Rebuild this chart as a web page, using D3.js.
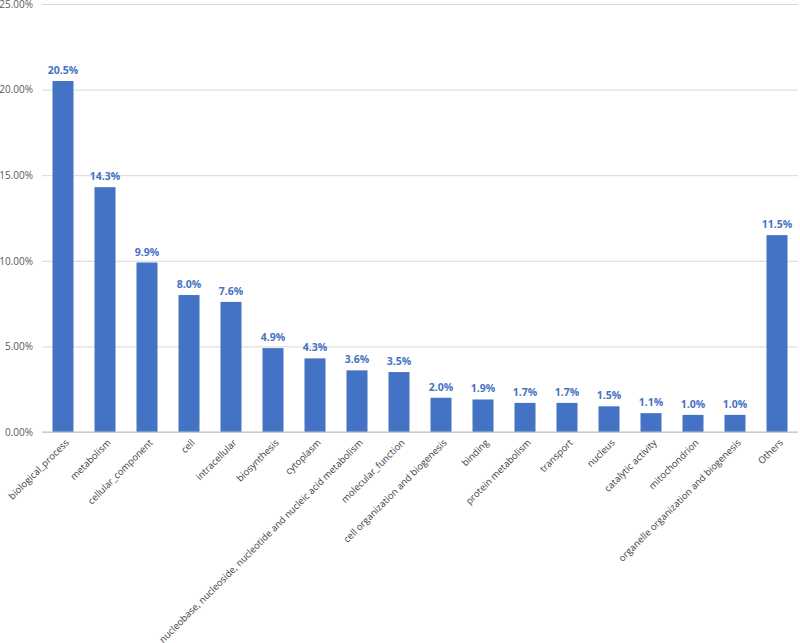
<!DOCTYPE html>
<html>
<head>
<meta charset="utf-8">
<script src="https://cdn.jsdelivr.net/npm/d3@7"></script>
<style>
  body { margin: 0; background: #fff; }
  svg text { font-family: "Open Sans", "Noto Sans", "Liberation Sans", sans-serif; }
</style>
</head>
<body>
<div id="chart"></div>
<script>
// categories and values (percent of annotated genes)
var categories = ["biological_process", "metabolism", "cellular_component", "cell", "intracellular",
    "biosynthesis", "cytoplasm", "nucleobase, nucleoside, nucleotide and nucleic acid metabolism",
    "molecular_function", "cell organization and biogenesis", "binding", "protein metabolism",
    "transport", "nucleus", "catalytic activity", "mitochondrion",
    "organelle organization and biogenesis", "Others"];
var values = [20.5, 14.3, 9.9, 8.0, 7.6, 4.9, 4.3, 3.6, 3.5, 2.0, 1.9, 1.7, 1.7, 1.5, 1.1, 1.0, 1.0, 11.5];
var yTicks = [0, 5, 10, 15, 20, 25];

// drawing params
const width = 800,
    height = 643,
    mLeft = 42, // plot left
    mRight = 798, // plot right
    mTop = 4, // y of 25%
    mBottom = 432, // y of 0%
    barColor = "#4472c4";

var svg = d3.select("#chart").append("svg")
    .attr("width", width)
    .attr("height", height);

var x = d3.scaleBand()
    .domain(categories)
    .range([mLeft, mRight])
    .paddingInner(0.5)
    .paddingOuter(0.25);

var y = d3.scaleLinear()
    .domain([0, 25])
    .range([mBottom, mTop]);

// gridlines + y labels
var yAxis = svg.append("g")
    .attr("transform", "translate(" + mLeft + ",0)")
    .call(d3.axisLeft(y).tickValues(yTicks)
        .tickSize(-(mRight - mLeft))
        .tickPadding(9)
        .tickFormat(function(d) { return d.toFixed(2) + "%"; }));
yAxis.select(".domain").remove();
yAxis.selectAll("line").attr("stroke", "#d9d9d9");
yAxis.selectAll("text")
    .attr("fill", "#595959")
    .style("font-size", "10px");

// bars
svg.append("g")
    .selectAll("rect")
    .data(values)
    .enter().append("rect")
    .attr("x", function(d, i) { return x(categories[i]); })
    .attr("y", function(d) { return y(d); })
    .attr("width", x.bandwidth())
    .attr("height", function(d) { return y(0) - y(d); })
    .attr("fill", barColor);

// baseline
svg.append("line")
    .attr("x1", mLeft).attr("x2", mRight)
    .attr("y1", y(0)).attr("y2", y(0))
    .attr("stroke", "#bfbfbf");

// value labels
svg.append("g")
    .selectAll("text")
    .data(values)
    .enter().append("text")
    .attr("x", function(d, i) { return x(categories[i]) + x.bandwidth() / 2; })
    .attr("y", function(d) { return y(d) - 7; })
    .attr("text-anchor", "middle")
    .attr("fill", barColor)
    .style("font-size", "10.5px")
    .style("font-weight", "bold")
    .text(function(d) { return d.toFixed(1) + "%"; });

// category labels, rotated
svg.append("g")
    .selectAll("text")
    .data(categories)
    .enter().append("text")
    .attr("transform", function(d) {
        var cx = x(d) + x.bandwidth() / 2 + 4;
        return "translate(" + cx + "," + (mBottom + 9) + ") rotate(-45)";
    })
    .attr("text-anchor", "end")
    .attr("dy", "0.35em")
    .attr("fill", "#404040")
    .style("font-size", "9.5px")
    .text(function(d) { return d; });
</script>
</body>
</html>
